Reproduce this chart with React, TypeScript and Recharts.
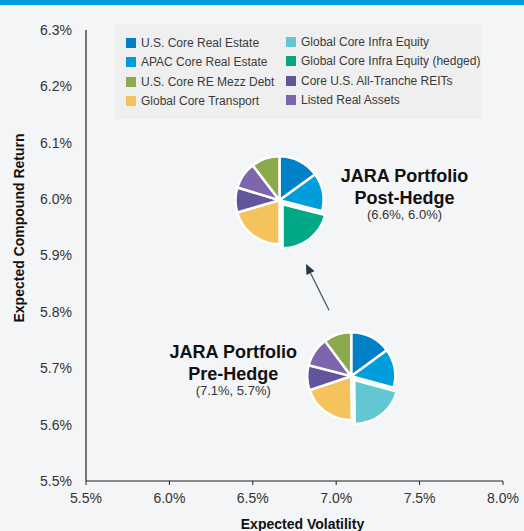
import React from 'react';
import { ScatterChart, Scatter, XAxis, YAxis, Legend, ReferenceLine, Sector } from 'recharts';

const FONT = "'Liberation Sans', Arial, Helvetica, sans-serif";

// Asset categories (legend order) and colours
const categories = [
  'U.S. Core Real Estate',
  'APAC Core Real Estate',
  'U.S. Core RE Mezz Debt',
  'Global Core Transport',
  'Global Core Infra Equity',
  'Global Core Infra Equity (hedged)',
  'Core U.S. All-Tranche REITs',
  'Listed Real Assets',
];
const categoryColors = ['#0080C6', '#009DDC', '#8BAA4B', '#F5C35B', '#63C7D3', '#00A886', '#62559C', '#7E66AF'];
const legendColumn1 = [0, 1, 2, 3];
const legendColumn2 = [4, 5, 6, 7];

// Axis ticks
const xTicks = [5.5, 6.0, 6.5, 7.0, 7.5, 8.0];
const yTicks = [5.5, 5.6, 5.7, 5.8, 5.9, 6.0, 6.1, 6.2, 6.3];

// Portfolios (plotted pie centres)
const portfolioTitles = ['JARA Portfolio', 'JARA Portfolio'];
const portfolioSubtitles = ['Post-Hedge', 'Pre-Hedge'];
const portfolioCoordLabels = ['(6.6%, 6.0%)', '(7.1%, 5.7%)'];
const portfolioVolatility = [6.66, 7.09];
const portfolioReturn = [5.998, 5.686];

// Pie slices, clockwise from 12 o'clock (category index + weight %)
const postHedgeSlices = [0, 1, 5, 3, 6, 7, 2];
const postHedgeWeights = [15, 14, 21, 20.5, 9.2, 9.9, 10.4];
const preHedgeSlices = [0, 1, 4, 3, 6, 7, 2];
const preHedgeWeights = [15, 14.2, 20.6, 20, 9.2, 10.8, 10.2];
const explodedCategories = [4, 5];

// Arrow from pre-hedge to post-hedge
const arrowFrom = { x: 6.957, y: 5.803 };
const arrowTo = { x: 6.819, y: 5.885 };

const sliceSets = [postHedgeSlices, preHedgeSlices];
const weightSets = [postHedgeWeights, preHedgeWeights];
const labelStyle = [
  { dx: 125 },
  { dx: -118 },
];

const points = portfolioVolatility.map((x, i) => ({ x, y: portfolioReturn[i], idx: i }));

function PieMark(props: any) {
  const { cx, cy, payload } = props;
  const idx = payload.idx;
  const slices = sliceSets[idx];
  const weights = weightSets[idx];
  const total = weights.reduce((a: number, b: number) => a + b, 0);
  const R = 44;
  let acc = 0;
  const sectors = slices.map((cat, k) => {
    const a0 = (acc / total) * 360;
    acc += weights[k];
    const a1 = (acc / total) * 360;
    let ox = 0;
    let oy = 0;
    if (explodedCategories.includes(cat)) {
      const mid = (((a0 + a1) / 2) * Math.PI) / 180;
      ox = 5 * Math.sin(mid);
      oy = -5 * Math.cos(mid);
    }
    return (
      <Sector
        key={k}
        cx={cx + ox}
        cy={cy + oy}
        innerRadius={0}
        outerRadius={R}
        startAngle={90 - a0}
        endAngle={90 - a1}
        fill={categoryColors[cat]}
        stroke="#ffffff"
        strokeWidth={2.5}
      />
    );
  });
  const tx = cx + labelStyle[idx].dx;
  return (
    <g>
      {sectors}
      <text x={tx} y={cy - 18} textAnchor="middle" fontFamily={FONT} fontSize={18} fontWeight="bold" fill="#111">
        {portfolioTitles[idx]}
      </text>
      <text x={tx} y={cy + 3.5} textAnchor="middle" fontFamily={FONT} fontSize={18} fontWeight="bold" fill="#111">
        {portfolioSubtitles[idx]}
      </text>
      <text x={tx} y={cy + 19} textAnchor="middle" fontFamily={FONT} fontSize={13} fill="#333">
        {portfolioCoordLabels[idx]}
      </text>
    </g>
  );
}

function ArrowShape(props: any) {
  const { x1, y1, x2, y2 } = props;
  const ang = Math.atan2(y2 - y1, x2 - x1);
  const len = 10;
  const half = 4.5;
  const bx = x2 - len * Math.cos(ang);
  const by = y2 - len * Math.sin(ang);
  const px = -Math.sin(ang);
  const py = Math.cos(ang);
  const pts = `${x2},${y2} ${bx + half * px},${by + half * py} ${bx - half * px},${by - half * py}`;
  return (
    <g>
      <line x1={x1} y1={y1} x2={bx} y2={by} stroke="#3D5056" strokeWidth={1.2} />
      <polygon points={pts} fill="#1F3A42" />
    </g>
  );
}

function LegendBox() {
  const item = (cat: number) => (
    <div key={cat} style={{ display: 'flex', alignItems: 'center', height: 19.5 }}>
      <div style={{ width: 10, height: 10, background: categoryColors[cat], marginRight: 5, flex: 'none' }} />
      <span style={{ whiteSpace: 'nowrap' }}>{categories[cat]}</span>
    </div>
  );
  return (
    <div
      style={{
        position: 'relative',
        width: 366,
        height: 95,
        background: '#EFEFEF',
        fontFamily: FONT,
        fontSize: 12,
        color: '#3A3A3A',
      }}
    >
      <div style={{ position: 'absolute', left: 11, top: 9 }}>{legendColumn1.map(item)}</div>
      <div style={{ position: 'absolute', left: 171, top: 8 }}>{legendColumn2.map(item)}</div>
    </div>
  );
}

const YTitle = (props: any) => {
  const vb = props.viewBox || { x: 0, y: 30 };
  const x = vb.x + 19;
  const y = vb.y + 198;
  return (
    <text
      x={x}
      y={y}
      transform={`rotate(-90 ${x} ${y})`}
      textAnchor="middle"
      dominantBaseline="central"
      fontFamily={FONT}
      fontSize={14}
      fontWeight="bold"
      fill="#111"
    >
      Expected Compound Return
    </text>
  );
};

const XTitle = (props: any) => {
  const vb = props.viewBox || { x: 86, y: 481, width: 417 };
  return (
    <text
      x={vb.x + vb.width / 2 + 8}
      y={vb.y + 48}
      textAnchor="middle"
      fontFamily={FONT}
      fontSize={14}
      fontWeight="bold"
      fill="#111"
    >
      Expected Volatility
    </text>
  );
};

export default function App() {
  return (
    <div style={{ position: 'absolute', left: 0, top: 0, width: 524, height: 531, background: '#F4F5F7', overflow: 'hidden' }}>
      <div style={{ position: 'absolute', left: 0, top: 0, width: 524, height: 5, background: '#009CDE', zIndex: 2 }} />
      <ScatterChart width={524} height={531} margin={{ top: 30, right: 21, bottom: 0, left: 0 }}>
        <XAxis
          type="number"
          dataKey="x"
          domain={[5.5, 8]}
          ticks={xTicks}
          height={50}
          axisLine={{ stroke: '#222', strokeWidth: 1.2 }}
          tickLine={{ stroke: '#222' }}
          tickSize={4}
          tickMargin={8}
          tick={{ fontFamily: FONT, fontSize: 14, fill: '#333' }}
          tickFormatter={(v: number) => `${v.toFixed(1)}%`}
          label={{ content: XTitle }}
        />
        <YAxis
          type="number"
          dataKey="y"
          domain={[5.5, 6.3]}
          ticks={yTicks}
          width={86}
          axisLine={{ stroke: '#222', strokeWidth: 1.2 }}
          tickLine={false}
          tickSize={6}
          tickMargin={8}
          tick={{ fontFamily: FONT, fontSize: 14, fill: '#333' }}
          tickFormatter={(v: number) => `${v.toFixed(1)}%`}
          label={{ content: YTitle }}
        />
        <Legend
          layout="horizontal"
          verticalAlign="middle"
          align="center"
          wrapperStyle={{ left: 115, top: 24, width: 366, height: 95 }}
          content={() => <LegendBox />}
        />
        <ReferenceLine segment={[arrowFrom, arrowTo]} shape={ArrowShape} />
        <Scatter data={points} shape={PieMark} isAnimationActive={false} />
      </ScatterChart>
    </div>
  );
}
